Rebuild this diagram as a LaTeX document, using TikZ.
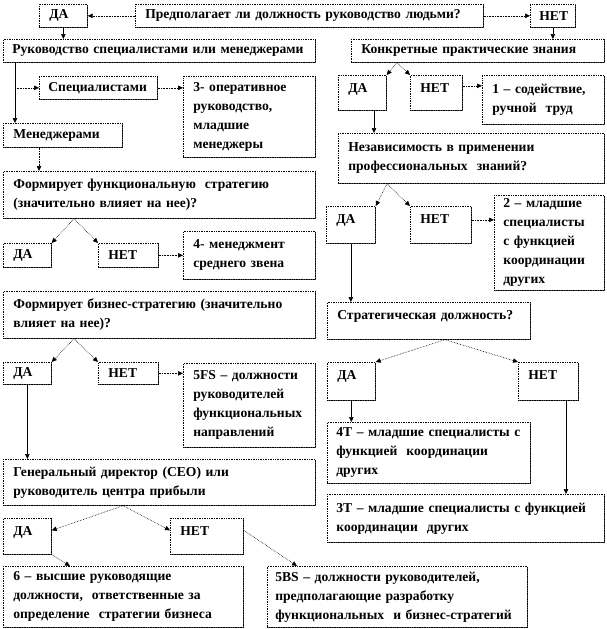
\documentclass[tikz,border=0pt]{standalone}
\usepackage{fontspec}
\setmainfont{Liberation Serif}
\usetikzlibrary{arrows.meta,shadows}

\begin{document}
\begin{tikzpicture}[
  x=1pt, y=-1pt,
  font=\bfseries\fontsize{13.6}{19}\selectfont,
  box/.style={draw, densely dotted, line width=0.7pt, fill=white, anchor=north west, align=left, inner xsep=10pt, inner ysep=2pt, drop shadow={shadow xshift=1pt, shadow yshift=-1pt, fill=black!70, opacity=1}},
  ans/.style={box, inner ysep=7pt, text height=10pt},
  link/.style={-{Triangle[length=5pt,width=4.5pt]}, line width=0.6pt},
  dlink/.style={link, densely dotted}
]
  \useasboundingbox (0,0) rectangle (606,629);
  % top question
  \node[box, text width=328pt, minimum height=23pt] (q0) at (135,4) {Предполагает ли должность руководство людьми?};
  \node[box, text width=28pt, minimum height=23pt] (y0) at (39,4) {ДА};
  \node[box, text width=27pt, inner xsep=9pt, minimum height=23pt] (n0) at (530,4) {НЕТ};
  % left branch
  \node[box, text width=294pt, inner xsep=9pt, minimum height=23pt] (mgmt) at (3,39) {Руководство специалистами или менеджерами};
  \node[box, text width=100pt, inner xsep=9pt, minimum height=23pt] (spec) at (39,76) {Специалистами};
  \node[box, text width=112pt, minimum height=81pt] (r3) at (183,76) {3- оперативное\\руководство,\\младшие\\менеджеры};
  \node[box, text width=99pt, minimum height=24pt] (man) at (3,123) {Менеджерами};
  \node[box, text width=292pt, minimum height=47pt] (f1) at (3,171) {Формирует функциональную \ стратегию\\(значительно влияет на нее)?};
  \node[box, text width=28pt, minimum height=24pt] (y1) at (3,243) {ДА};
  \node[box, text width=40pt, minimum height=24pt] (n1) at (98,243) {НЕТ};
  \node[box, text width=112pt, minimum height=48pt] (r4) at (183,231) {4- менеджмент\\среднего звена};
  \node[box, text width=292pt, minimum height=47pt] (f2) at (3,291) {Формирует бизнес-стратегию (значительно\\влияет на нее)?};
  \node[box, text width=28pt, minimum height=22pt] (y2) at (3,362) {ДА};
  \node[box, text width=40pt, minimum height=22pt] (n2) at (98,362) {НЕТ};
  \node[box, text width=112pt, minimum height=84pt] (r5fs) at (183,363) {5FS – должности\\руководителей\\функциональных\\направлений};
  \node[box, text width=292pt, minimum height=46pt] (ceo) at (3,459) {Генеральный директор (CEO) или\\руководитель центра прибыли};
  \node[ans, text width=28pt, text depth=12pt] (y3) at (3,518) {ДА};
  \node[ans, text width=53pt, text depth=12pt] (n3) at (170,518) {НЕТ};
  \node[box, text width=220pt, minimum height=61pt] (r6) at (3,566) {6 – высшие руководящие\\должности, \ ответственные за\\определение \ стратегии бизнеса};
  \node[box, text width=244pt, inner xsep=8pt, minimum height=61pt] (r5bs) at (267,566) {5BS – должности руководителей,\\предполагающие разработку\\функциональных \ и бизнес-стратегий};
  % right branch
  \node[box, text width=233pt, minimum height=23pt] (know) at (351,39) {Конкретные практические знания};
  \node[ans, text width=28pt, text depth=11pt] (yk) at (338,75) {ДА};
  \node[ans, text width=32pt, text depth=11pt] (nk) at (410,75) {НЕТ};
  \node[box, text width=102pt, minimum height=49pt] (r1) at (482,75) {1 – содействие,\\ручной \ труд};
  \node[box, text width=246pt, minimum height=50pt] (ind) at (338,133) {Независимость в применении\\профессиональных \ знаний?};
  \node[ans, text width=29pt, text depth=13pt] (yi) at (326,206) {ДА};
  \node[ans, text width=41pt, text depth=13pt] (ni) at (410,206) {НЕТ};
  \node[box, text width=92pt, inner xsep=9pt, minimum height=95pt] (r2) at (494,195) {2 – младшие\\специалисты\\с функцией\\координации\\других};
  \node[ans, text width=183pt, text depth=13pt] (strat) at (327,302) {Стратегическая должность?};
  \node[ans, text width=28pt, text depth=14pt] (ys) at (327,362) {ДА};
  \node[ans, text width=40pt, text depth=14pt] (ns) at (518,362) {НЕТ};
  \node[box, text width=185pt, inner xsep=9pt, minimum height=61pt] (r4t) at (327,422) {4T – младшие специалисты с\\функцией \ координации\\других};
  \node[box, text width=259pt, inner xsep=9pt, minimum height=48pt] (r3t) at (327,494) {3T – младшие специалисты с функцией\\координации \ других};

  % helper points
  \coordinate (m1) at ([xshift=12pt]mgmt.south west);
  \coordinate (m2) at ([xshift=36pt]man.south west);
  \coordinate (p1) at ([xshift=71pt]f1.south west);
  \coordinate (p2) at ([xshift=71pt]f2.south west);
  \coordinate (p3) at ([xshift=120pt]ceo.south west);
  \coordinate (p4) at ([xshift=46pt]know.south west);
  \coordinate (p5) at ([xshift=49pt]ind.south west);
  \coordinate (p6) at ([xshift=118pt]strat.south west);
  \coordinate (k1) at ([xshift=36pt]yk.south west);
  \coordinate (s1) at ([xshift=48pt]ns.south west);
  \coordinate (a1) at ([yshift=7pt]nk.east);
  \coordinate (a2) at ([yshift=5pt]ni.east);
  \coordinate (a3) at ([yshift=6pt]n3.east);

  \draw[dlink] (q0.west) -- (y0.east);
  \draw[dlink] (q0.east) -- (n0.west);
  \draw[link] (y0.south) -- (y0.south |- mgmt.north);
  \draw[link] (n0.south) -- (n0.south |- know.north);
  % left side
  \draw[link] (m1) -- (m1 |- man.north);
  \draw[dlink] (m1 |- spec.west) -- (spec.west);
  \draw[dlink] (spec.east) -- (spec.east -| r3.west);
  \draw[dlink] (m2) -- (m2 |- f1.north);
  \draw[dlink] (p1) -- (y1.north east);
  \draw[dlink] (p1) -- (n1.north west);
  \draw[dlink] (n1.east) -- (n1.east -| r4.west);
  \draw[dlink] (p2) -- (y2.north east);
  \draw[dlink] (p2) -- (n2.north west);
  \draw[dlink] (n2.east) -- (n2.east -| r5fs.west);
  \draw[link] (y2.south) -- (y2.south |- ceo.north);
  \draw[dlink] (p3) -- ([yshift=6pt]y3.east);
  \draw[dlink] (p3) -- (a3 -| n3.west);
  \draw[dlink] (y3.south east) -- ([xshift=67pt]r6.north west);
  \draw[dlink] (a3) -- ([xshift=30pt]r5bs.north west);
  % right side
  \draw[dlink] (p4) -- (yk.north east);
  \draw[dlink] (p4) -- (nk.north west);
  \draw[dlink] (a1) -- (a1 -| r1.west);
  \draw[link] (k1) -- (k1 |- ind.north);
  \draw[dlink] (p5) -- (yi.north east);
  \draw[dlink] (p5) -- (ni.north west);
  \draw[dlink] (a2) -- (a2 -| r2.west);
  \draw[link] (yi.south) -- (yi.south |- strat.north);
  \draw[dlink] (p6) -- (ys.north east);
  \draw[dlink] (p6) -- (ns.north west);
  \draw[link] (ys.south) -- (ys.south |- r4t.north);
  \draw[link] (s1) -- (s1 |- r3t.north);
\end{tikzpicture}
\end{document}
